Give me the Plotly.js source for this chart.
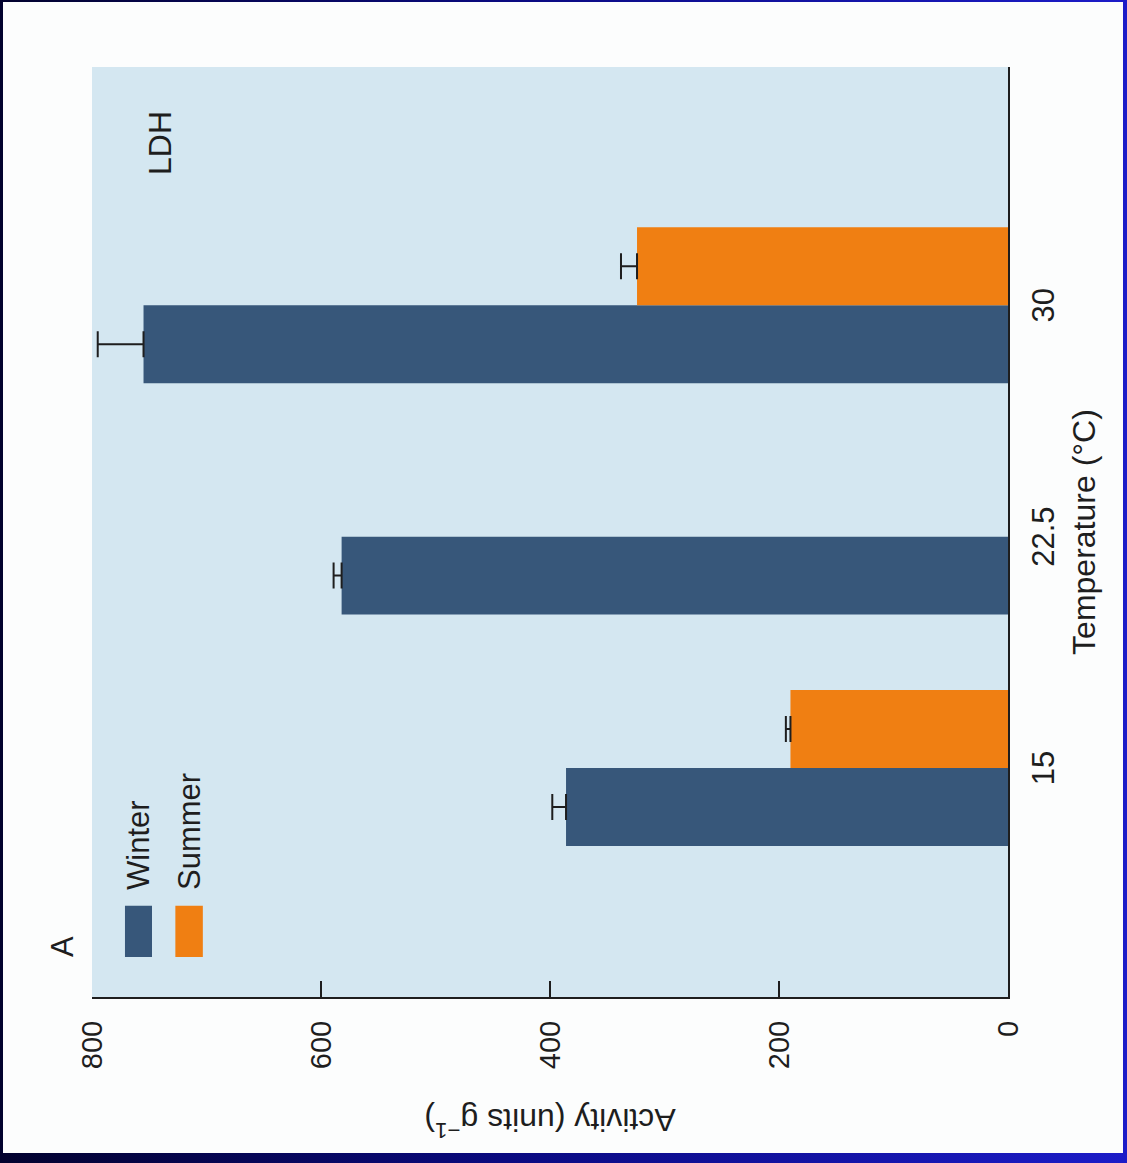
<!DOCTYPE html>
<html><head><meta charset="utf-8">
<script src="https://cdn.plot.ly/plotly-3.0.1.min.js"></script>
<style>
html,body{margin:0;padding:0;width:1127px;height:1163px;overflow:hidden;}
body{background:linear-gradient(to right,#02022e 0%,#0a0a80 45%,#1c1cc8 100%);position:relative;}
#panel{position:absolute;left:3px;top:2px;width:1120px;height:1151px;background:#fcfdfd;}
#chart{position:absolute;left:0;top:0;width:1163px;height:1127px;transform-origin:0 0;transform:translateY(1163px) rotate(-90deg);}
</style></head><body>
<div id="panel"></div>
<div id="chart"></div>
<script>
// Data
const temperatures = ['15', '22.5', '30'];
const winterActivity = [386, 582, 755];
const winterError = [12, 7, 40];
const summerActivity = [190, null, 324];
const summerError = [4, 0, 14];
const activityTicks = [0, 200, 400, 600, 800];
const seriesNames = ['Winter', 'Summer'];
const panelLabel = 'A';
const enzymeLabel = 'LDH';

const winterColor = '#37577a';
const summerColor = '#f07f12';
const ink = '#1e1e1e';
const fontFam = 'Liberation Sans, Arial, Helvetica, sans-serif';

const traces = [
  {
    type: 'bar', name: seriesNames[0], x: temperatures, y: winterActivity,
    marker: {color: winterColor},
    error_y: {type: 'data', array: winterError, arrayminus: winterError.map(() => 0),
              color: ink, thickness: 2, width: 13}
  },
  {
    type: 'bar', name: seriesNames[1], x: temperatures, y: summerActivity,
    marker: {color: summerColor},
    error_y: {type: 'data', array: summerError, arrayminus: summerError.map(() => 0),
              color: ink, thickness: 2, width: 13}
  }
];

const layout = {
  width: 1163, height: 1127,
  margin: {l: 166, r: 67, t: 92, b: 119, pad: 0},
  paper_bgcolor: 'rgba(0,0,0,0)',
  plot_bgcolor: '#d4e7f1',
  barmode: 'group', bargap: 0.326, bargroupgap: 0,
  showlegend: false,
  font: {family: fontFam, color: ink},
  xaxis: {
    type: 'category', categoryorder: 'array', categoryarray: temperatures,
    range: [-0.99, 3.03],
    showline: true, linecolor: ink, linewidth: 2, ticks: '',
    showgrid: false, zeroline: false,
    tickfont: {size: 31, color: ink, family: fontFam},
    ticklabelstandoff: 7,
    title: {text: 'Temperature (°C)', font: {size: 32, color: ink, family: fontFam}, standoff: 12}
  },
  yaxis: {
    range: [0, 800], tickvals: activityTicks, ticktext: activityTicks.map(String),
    showline: true, linecolor: ink, linewidth: 2,
    ticks: 'inside', ticklen: 16, tickwidth: 2, tickcolor: ink,
    showgrid: false, zeroline: false,
    tickfont: {size: 29, color: ink, family: fontFam},
    ticklabelstandoff: 16,
    title: {text: 'Activity (units g<sup>−1</sup>)', font: {size: 32, color: ink, family: fontFam}, standoff: 30}
  },
  shapes: [
    {type: 'rect', xref: 'paper', yref: 'paper', x0: 0.043, x1: 0.098, y0: 0.9345, y1: 0.964,
     fillcolor: winterColor, line: {width: 0}},
    {type: 'rect', xref: 'paper', yref: 'paper', x0: 0.043, x1: 0.098, y0: 0.879, y1: 0.909,
     fillcolor: summerColor, line: {width: 0}}
  ],
  annotations: [
    {text: seriesNames[0], xref: 'paper', yref: 'paper', x: 0.113, y: 0.949, xanchor: 'left', yanchor: 'middle',
     showarrow: false, font: {size: 31, color: ink, family: fontFam}},
    {text: seriesNames[1], xref: 'paper', yref: 'paper', x: 0.113, y: 0.894, xanchor: 'left', yanchor: 'middle',
     showarrow: false, font: {size: 31, color: ink, family: fontFam}},
    {text: panelLabel, xref: 'paper', yref: 'paper', x: 0.054, y: 1.032, xanchor: 'center', yanchor: 'middle',
     showarrow: false, font: {size: 31, color: ink, family: fontFam}},
    {text: enzymeLabel, xref: 'paper', yref: 'paper', x: 0.918, y: 0.926, xanchor: 'center', yanchor: 'middle',
     showarrow: false, font: {size: 32, color: ink, family: fontFam}}
  ]
};

Plotly.newPlot('chart', traces, layout, {staticPlot: true, displayModeBar: false});
</script>
</body></html>
